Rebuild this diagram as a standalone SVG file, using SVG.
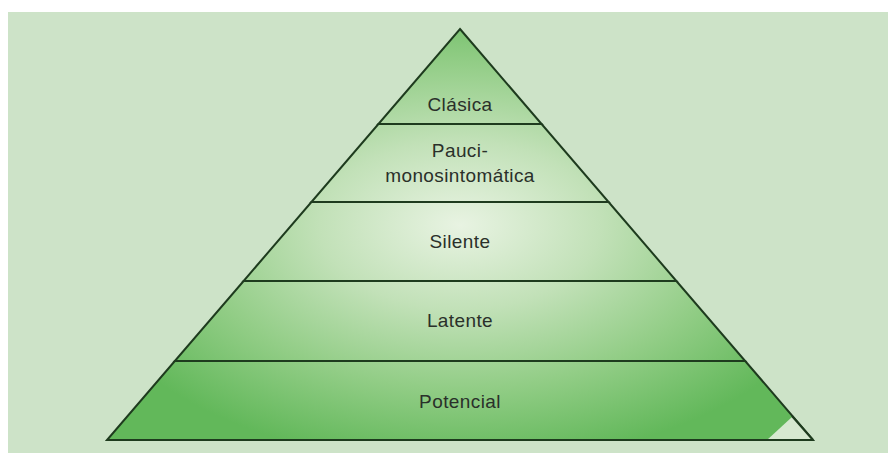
<svg xmlns="http://www.w3.org/2000/svg" width="888" height="453" viewBox="0 0 888 453">
<defs>
<radialGradient id="g" gradientUnits="userSpaceOnUse" cx="460" cy="225" r="400" gradientTransform="translate(460 225) scale(1 0.6) translate(-460 -225)">
<stop offset="0" stop-color="#e8f3e2"/>
<stop offset="0.35" stop-color="#c2e1b8"/>
<stop offset="0.68" stop-color="#92cd86"/>
<stop offset="1" stop-color="#62b85a"/>
</radialGradient>
<style>
.tier{fill:url(#g);stroke:#1e3b1e;stroke-width:2;stroke-linejoin:miter}
.lbl{font-family:"Liberation Sans",Arial,sans-serif;font-size:19px;fill:#2a302a;text-anchor:middle;letter-spacing:0.4px}
</style>
</defs>
<rect x="0" y="0" width="888" height="453" fill="#ffffff"/>
<rect x="8" y="12" width="880" height="441" fill="#cde3c8"/>
<g id="tier-potencial">
<polygon class="tier" points="174.8,361 745.2,361 813,440 107,440"/>
<polygon points="767,440 792,417 813,440" fill="#d6e9d0"/>
<line x1="107" y1="440" x2="813" y2="440" stroke="#1e3b1e" stroke-width="2"/>
<line x1="792" y1="416" x2="813" y2="440" stroke="#1e3b1e" stroke-width="2"/>
<text class="lbl" x="460" y="408">Potencial</text>
</g>
<g id="tier-latente">
<polygon class="tier" points="243.6,281 676.4,281 745.2,361 174.8,361"/>
<text class="lbl" x="460" y="327">Latente</text>
</g>
<g id="tier-silente">
<polygon class="tier" points="311.4,202 608.6,202 676.4,281 243.6,281"/>
<text class="lbl" x="460" y="248">Silente</text>
</g>
<g id="tier-pauci">
<polygon class="tier" points="378.4,124 541.6,124 608.6,202 311.4,202"/>
<text class="lbl" x="460" y="157">Pauci-</text>
<text class="lbl" x="460" y="182">monosintomática</text>
</g>
<g id="tier-clasica">
<polygon class="tier" points="460,29 541.6,124 378.4,124"/>
<text class="lbl" x="460" y="111">Clásica</text>
</g>
</svg>
